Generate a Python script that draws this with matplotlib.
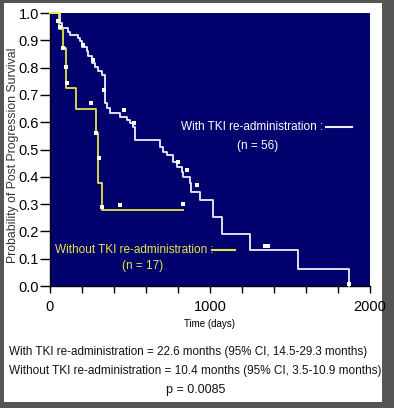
import matplotlib
matplotlib.use('Agg')
import matplotlib.pyplot as plt
from matplotlib.patches import Rectangle

# Kaplan-Meier steps (days, survival after the drop)
with_t = [0, 62, 73, 115, 125, 177, 188, 198, 229, 240, 260, 281, 302, 323,
          344, 355, 372, 438, 479, 500, 521, 531, 687, 708, 729, 771, 792,
          823, 833, 875, 882, 937, 1021, 1078, 1250, 1550, 1870]
with_s = [1.0, 0.963, 0.945, 0.932, 0.920, 0.908, 0.896, 0.877, 0.859, 0.841,
          0.816, 0.804, 0.786, 0.773, 0.670, 0.651, 0.633, 0.620, 0.608,
          0.596, 0.584, 0.535, 0.510, 0.492, 0.480, 0.455, 0.437, 0.418,
          0.400, 0.376, 0.345, 0.315, 0.253, 0.192, 0.131, 0.064, 0.0]

without_t = [0, 58, 83, 97, 162, 290, 302, 322, 833]
without_s = [1.0, 0.94, 0.87, 0.725, 0.648, 0.56, 0.376, 0.278, 0.278]

# censored observations
with_cens_t = [52, 62, 208, 271, 339, 464, 526, 798, 858, 917, 1344, 1365, 1871]
with_cens_s = [0.97, 0.95, 0.884, 0.829, 0.719, 0.643, 0.597, 0.455, 0.425,
               0.370, 0.146, 0.146, 0.006]
without_cens_t = [83, 98, 108, 256, 285, 308, 327, 440, 829]
without_cens_s = [0.871, 0.804, 0.743, 0.670, 0.559, 0.468, 0.29, 0.296, 0.299]

yticks = [0.0, 0.1, 0.2, 0.3, 0.4, 0.5, 0.6, 0.7, 0.8, 0.9, 1.0]
xticks = [0, 1000, 2000]
xminor = [200, 400, 600, 800, 1200, 1400, 1600, 1800]

summary = [
    'With TKI re-administration = 22.6 months (95% CI, 14.5-29.3 months)',
    'Without TKI re-administration = 10.4 months (95% CI, 3.5-10.9 months)',
]
pval = 'p = 0.0085'

FONT = ['Liberation Sans', 'DejaVu Sans']
NAVY = '#02026f'
YELLOW = '#e6e640'
WHITE = '#eeeeff'

plt.rcParams['font.family'] = FONT

fig = plt.figure(figsize=(3.94, 4.08), dpi=100, facecolor='#555555')
fig.add_artist(Rectangle((4 / 394, 6 / 408), 378 / 394, 399 / 408,
                         transform=fig.transFigure, facecolor='white',
                         edgecolor='none', zorder=-10))

ax = fig.add_axes([50 / 394, 122 / 408, 320 / 394, 273 / 408])
ax.set_zorder(2)
ax.set_facecolor(NAVY)
ax.set_xlim(0, 2000)
ax.set_ylim(0, 1.0)
for side in ['top', 'right']:
    ax.spines[side].set_visible(False)
for side in ['left', 'bottom']:
    ax.spines[side].set_color('black')
    ax.spines[side].set_linewidth(1.0)

ax.step(with_t, with_s, where='post', color=WHITE, lw=1.3, clip_on=False, zorder=3)
ax.step(without_t, without_s, where='post', color=YELLOW, lw=1.3, clip_on=False, zorder=4)
ax.plot(with_cens_t, with_cens_s, ls='none', marker='s', ms=2.3, color='white', mew=0, zorder=5)
ax.plot(without_cens_t, without_cens_s, ls='none', marker='s', ms=2.3, color='white', mew=0, zorder=5)

ax.set_yticks(yticks)
ax.set_yticklabels([f'{v:.1f}' for v in yticks])
ax.set_xticks(xticks)
ax.set_xticklabels([str(v) for v in xticks])
ax.set_xticks(xminor, minor=True)
ax.tick_params(axis='y', direction='out', length=7, width=1, pad=1, labelsize=10.5)
ax.tick_params(axis='x', which='both', direction='out', length=5, width=1, pad=5, labelsize=10.5)

ax.set_xlabel('Time (days)', fontsize=7, labelpad=4)
ax.set_ylabel('Probability of Post Progression Survival', fontsize=8.8,
              color='#333333')
ax.yaxis.set_label_coords(-0.098, 0.48)

# in-plot legend
ax.text(0.853, 0.582, 'With TKI re-administration :', transform=ax.transAxes,
        ha='right', va='center', color='white', fontsize=8.5)
ax.plot([0.863, 0.944], [0.582, 0.582], transform=ax.transAxes, color=WHITE, lw=1.5)
ax.text(0.65, 0.513, '(n = 56)', transform=ax.transAxes, ha='center',
        va='center', color='white', fontsize=8.5)

ax.text(0.016, 0.132, 'Without TKI re-administration :', transform=ax.transAxes,
        ha='left', va='center', color=YELLOW, fontsize=8.5)
ax.plot([0.506, 0.578], [0.132, 0.132], transform=ax.transAxes, color=YELLOW, lw=1.5)
ax.text(0.29, 0.073, '(n = 17)', transform=ax.transAxes, ha='center',
        va='center', color=YELLOW, fontsize=8.5)

lines = [
    fig.text(9 / 394, 1 - 352 / 408, summary[0], ha='left', va='center',
             fontsize=9, color='#111111'),
    fig.text(9 / 394, 1 - 371 / 408, summary[1], ha='left', va='center',
             fontsize=9, color='#111111'),
]
fig.text(196 / 394, 1 - 390 / 408, pval, ha='center', va='center',
         fontsize=9, color='#111111')

# shrink the long caption lines so they fit their width in the reference
renderer = fig.canvas.get_renderer()
for t, target in zip(lines, [360, 370]):
    w = t.get_window_extent(renderer).width
    t.set_fontsize(t.get_fontsize() * target / w)

fig.savefig('out.png', dpi=100, facecolor=fig.get_facecolor())
